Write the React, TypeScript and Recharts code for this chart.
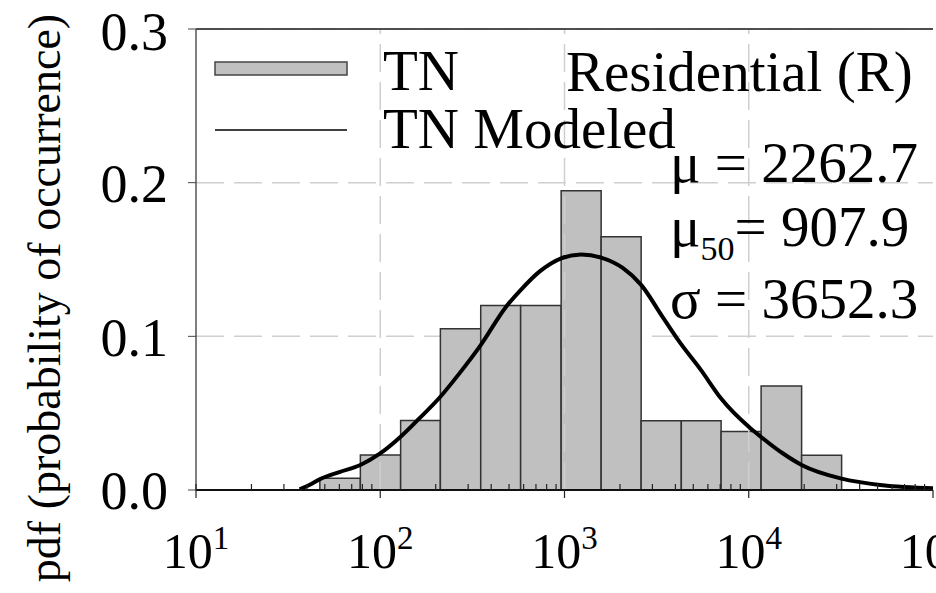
import { ComposedChart, Line, XAxis, YAxis, CartesianGrid, ReferenceArea, ReferenceLine } from "recharts";

const SERIF = "Liberation Serif, DejaVu Serif, serif";

// histogram: bin edges (log spaced) and pdf height of each bin
const binEdges = [47, 78, 129, 212, 351, 578, 959, 1581, 2606, 4305, 7079, 11670, 19360, 31920];
const binHeights = [0.0077, 0.0228, 0.0453, 0.105, 0.12, 0.12, 0.1948, 0.1648, 0.045, 0.045, 0.038, 0.0677, 0.0226];

// modeled curve
const curveX = [36.5, 42, 47, 60, 78, 99, 129, 163, 212, 269, 351, 482, 578, 731, 959, 1230, 1581, 2070, 2606, 3412, 4198, 5508, 7079, 10070, 11670, 15280, 19360, 31920, 53330, 100000];
const curveY = [0.0005, 0.0038, 0.007, 0.0117, 0.0163, 0.0235, 0.0347, 0.0466, 0.0607, 0.0759, 0.0943, 0.1193, 0.1301, 0.1421, 0.1508, 0.1533, 0.1512, 0.1445, 0.1335, 0.1125, 0.0965, 0.078, 0.0595, 0.0408, 0.0345, 0.0239, 0.0163, 0.0074, 0.0031, 0.0011];

const majorTicks = [10, 100, 1000, 10000, 100000];
const gridX = [100, 1000, 10000];
const yTicks = [0, 0.1, 0.2, 0.3];
const minorTicks = majorTicks.slice(0, 4).flatMap((d) => [2, 3, 4, 5, 6, 7, 8, 9].map((k) => k * d));

const legendLabels = ["TN", "TN Modeled"];
const legendTitle = "Residential (R)";
const statMean = "2262.7";
const statMedian = "907.9";
const statStd = "3652.3";

const curve = curveX.map((x, i) => ({ x, y: curveY[i] }));

function BottomTick(props: any) {
  const { x, y, payload } = props;
  const v = payload.value;
  if (!majorTicks.includes(v)) {
    return <line x1={x} x2={x} y1={y} y2={y - 6} stroke="#222" strokeWidth={1.2} />;
  }
  const exp = Math.round(Math.log10(v));
  return (
    <g>
      <line x1={x} x2={x} y1={y - (v === 10 ? 6 : 0)} y2={y + 8} stroke="#222" strokeWidth={1.2} />
      <text x={x} y={y + 78} textAnchor="middle" style={{ fontFamily: SERIF }} fontSize={50} fill="#000">
        10
        <tspan fontSize={33} dy={-19}>
          {exp}
        </tspan>
      </text>
    </g>
  );
}

function TopTick(props: any) {
  const { x, y } = props;
  return <line x1={x} x2={x} y1={y - 4} y2={y + 4} stroke="#333" strokeWidth={1.2} />;
}

const txt = { fontFamily: SERIF };

export default function App() {
  return (
    <div style={{ position: "absolute", left: 0, top: 0, width: 936, height: 593, background: "#fff", overflow: "hidden" }}>
      <ComposedChart width={936} height={593} margin={{ top: 28, right: 3, left: 0, bottom: 0 }}>
        <CartesianGrid vertical={false} stroke="#cfcfcf" strokeWidth={1.5} strokeDasharray="28 10" />
        {gridX.map((g) => (
          <ReferenceLine key={g} x={g} stroke="#cfcfcf" strokeWidth={1.5} strokeDasharray="28 10" />
        ))}
        <XAxis
          dataKey="x"
          type="number"
          scale="log"
          domain={[10, 100000]}
          allowDataOverflow
          ticks={[...majorTicks, ...minorTicks]}
          interval={0}
          height={103}
          tickSize={0}
          tickMargin={0}
          tickLine={false}
          tick={<BottomTick />}
          axisLine={{ stroke: "#111", strokeWidth: 2 }}
        />
        <XAxis
          xAxisId="top"
          orientation="top"
          type="number"
          scale="log"
          domain={[10, 100000]}
          allowDataOverflow
          ticks={minorTicks}
          interval={0}
          height={1}
          tickSize={0}
          tickMargin={0}
          tickLine={false}
          tick={<TopTick />}
          axisLine={{ stroke: "#444", strokeWidth: 1.5 }}
        />
        <YAxis
          type="number"
          domain={[0, 0.3]}
          ticks={yTicks}
          width={196}
          tickSize={8}
          tickMargin={20}
          tickFormatter={(v: number) => v.toFixed(1)}
          tick={{ fontSize: 54, fill: "#000", style: txt }}
          tickLine={{ stroke: "#444" }}
          axisLine={{ stroke: "#555", strokeWidth: 1.5 }}
        />
        <ReferenceLine y={0.3} stroke="#444" strokeWidth={1.5} />
        {binHeights.map((h, i) => (
          <ReferenceArea
            key={i}
            x1={binEdges[i]}
            x2={binEdges[i + 1]}
            y1={0}
            y2={h}
            fill="#c0c0c0"
            fillOpacity={1}
            stroke="#333"
            strokeWidth={1.5}
          />
        ))}
        <Line
          data={curve}
          dataKey="y"
          type="monotone"
          stroke="#000"
          strokeWidth={4}
          dot={false}
          isAnimationActive={false}
        />
      </ComposedChart>
      <svg width={936} height={593} style={{ position: "absolute", left: 0, top: 0, pointerEvents: "none", ...txt }}>
        <text x={60} y={298} transform="rotate(-90 60 298)" textAnchor="middle" fontSize={46} fill="#000" style={txt}>
          pdf (probability of occurrence)
        </text>
        <rect x={215} y={62} width={132} height={13} fill="#c0c0c0" stroke="#444" strokeWidth={1.5} />
        <text x={383} y={90} fontSize={57} fill="#000" style={txt}>
          {legendLabels[0]}
        </text>
        <text x={566} y={91} fontSize={57} fill="#000" style={txt}>
          {legendTitle}
        </text>
        <line x1={215} x2={347} y1={130} y2={130} stroke="#000" strokeWidth={1.5} />
        <text x={383} y={148} fontSize={57} fill="#000" style={txt}>
          {legendLabels[1]}
        </text>
        <text x={670} y={182} fontSize={57} fill="#000" style={txt}>
          μ = {statMean}
        </text>
        <text x={670} y={246} fontSize={57} fill="#000" style={txt}>
          μ
          <tspan fontSize={34} dy={14}>
            50
          </tspan>
          <tspan dy={-14}>= {statMedian}</tspan>
        </text>
        <text x={670} y={318} fontSize={57} fill="#000" style={txt}>
          σ = {statStd}
        </text>
      </svg>
    </div>
  );
}
